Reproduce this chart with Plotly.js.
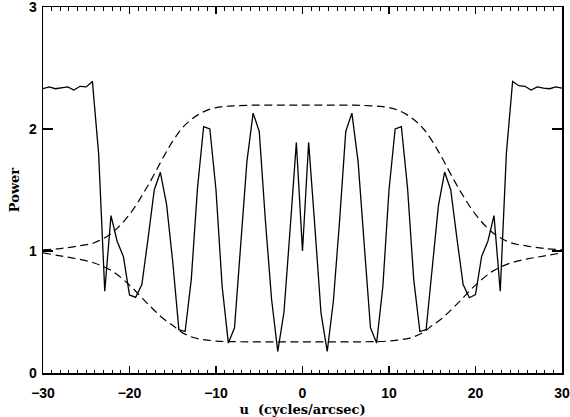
<!DOCTYPE html>
<html>
<head>
<meta charset="utf-8">
<script src="https://cdn.plot.ly/plotly-3.0.1.min.js"></script>
<style>html,body{margin:0;padding:0;background:#fff;}#chart{width:570px;height:417px;}</style>
</head>
<body>
<div id="chart"></div>
<script>
// Sampled spatial frequencies (cycles/arcsec)
const u = [-30.00,-29.29,-28.57,-27.86,-27.14,-26.43,-25.71,-25.00,-24.29,-23.57,-22.86,-22.14,-21.43,-20.71,-20.00,-19.29,-18.57,-17.86,-17.14,-16.43,-15.71,-15.00,-14.29,-13.57,-12.86,-12.14,-11.43,-10.71,-10.00,-9.29,-8.57,-7.86,-7.14,-6.43,-5.71,-5.00,-4.29,-3.57,-2.86,-2.14,-1.43,-0.71,0.00,0.71,1.43,2.14,2.86,3.57,4.29,5.00,5.71,6.43,7.14,7.86,8.57,9.29,10.00,10.71,11.43,12.14,12.86,13.57,14.29,15.00,15.71,16.43,17.14,17.86,18.57,19.29,20.00,20.71,21.43,22.14,22.86,23.57,24.29,25.00,25.71,26.43,27.14,27.86,28.57,29.29,30.00];
// Measured power
const power = [2.33,2.345,2.33,2.34,2.345,2.32,2.35,2.345,2.39,1.80,0.67,1.29,1.08,0.955,0.64,0.62,0.725,1.10,1.50,1.645,1.38,0.91,0.355,0.34,0.765,1.515,2.02,2.00,1.50,0.71,0.245,0.37,1.05,1.73,2.13,1.98,1.25,0.60,0.177,0.50,1.18,1.89,1.00,1.89,1.20,0.49,0.177,0.59,1.25,1.98,2.13,1.73,1.05,0.37,0.245,0.71,1.50,2.00,2.02,1.52,0.765,0.34,0.355,0.88,1.37,1.647,1.50,1.10,0.725,0.617,0.642,0.956,1.08,1.29,0.67,1.80,2.39,2.355,2.35,2.32,2.345,2.335,2.33,2.345,2.335];
// Envelope curves
const uEnv = [-30,-28,-26,-24,-22,-20,-18,-16,-15,-14,-13,-12,-11,-10,-9,-8,-6,-3,0,3,6,8,9,10,11,12,13,14,15,16,18,20,22,24,26,28,30];
const upperEnv = [1.01,1.02,1.04,1.07,1.15,1.30,1.52,1.78,1.90,2.00,2.07,2.12,2.155,2.175,2.185,2.19,2.195,2.195,2.195,2.195,2.195,2.19,2.185,2.175,2.155,2.12,2.07,2.00,1.90,1.78,1.52,1.30,1.15,1.07,1.04,1.02,1.01];
const lowerEnv = [0.985,0.96,0.935,0.90,0.835,0.72,0.575,0.44,0.39,0.335,0.30,0.28,0.27,0.262,0.258,0.257,0.255,0.255,0.255,0.255,0.255,0.257,0.258,0.262,0.27,0.28,0.30,0.335,0.39,0.44,0.575,0.72,0.835,0.90,0.935,0.96,0.985];

const traces = [
  {x: u, y: power, type: 'scatter', mode: 'lines', line: {color: '#000', width: 1.3}, hoverinfo: 'skip'},
  {x: uEnv, y: upperEnv, type: 'scatter', mode: 'lines', line: {color: '#000', width: 1.2, dash: '8px,4.5px', shape: 'spline', smoothing: 1}, hoverinfo: 'skip'},
  {x: uEnv, y: lowerEnv, type: 'scatter', mode: 'lines', line: {color: '#000', width: 1.2, dash: '8px,4.5px', shape: 'spline', smoothing: 1}, hoverinfo: 'skip'}
];

const tickFont = {family: 'Liberation Sans, Arial, sans-serif', size: 14, color: '#000', weight: 'bold'};
const titleFont = {family: 'DejaVu Serif, serif', size: 13, color: '#000', weight: 'bold'};

const layout = {
  width: 570, height: 417,
  margin: {l: 43, r: 8, t: 7, b: 44, pad: 0},
  paper_bgcolor: '#fff', plot_bgcolor: '#fff',
  showlegend: false,
  xaxis: {
    range: [-30, 30], tickmode: 'linear', tick0: 0, dtick: 10,
    ticks: 'inside', ticklen: 7, tickwidth: 1.2, tickcolor: 'black',
    showline: true, linecolor: 'black', linewidth: 1.5, mirror: 'allticks',
    showgrid: false, zeroline: false, tickfont: tickFont, ticklabelstandoff: 7,
    ticklabeloverflow: 'allow',
    minor: {dtick: 1, ticks: 'inside', ticklen: 3.5, tickwidth: 1, tickcolor: 'black'},
    title: {text: 'u  (cycles/arcsec)', font: titleFont, standoff: 4}
  },
  yaxis: {
    range: [0, 3], tickmode: 'linear', tick0: 0, dtick: 1,
    ticks: 'inside', ticklen: 10, tickwidth: 1.2, tickcolor: 'black',
    showline: true, linecolor: 'black', linewidth: 1.5, mirror: 'allticks',
    showgrid: false, zeroline: false, tickfont: tickFont, ticklabelstandoff: 2,
    ticklabeloverflow: 'allow',
    title: {text: 'Power', font: titleFont, standoff: 6}
  }
};

Plotly.newPlot('chart', traces, layout, {displayModeBar: false, staticPlot: true});
</script>
</body>
</html>
